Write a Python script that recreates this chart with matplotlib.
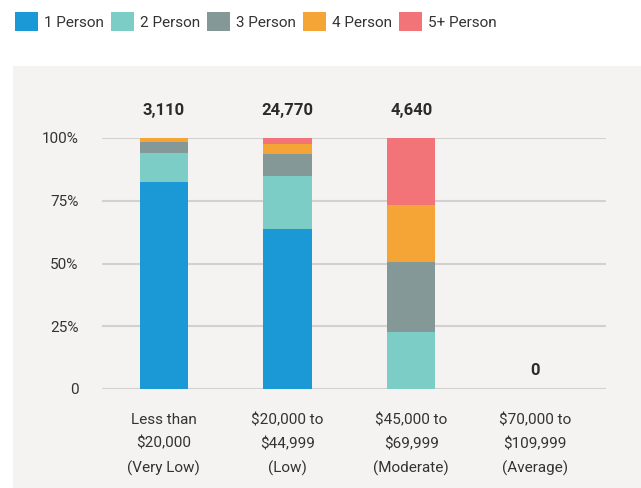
import matplotlib.pyplot as plt
import matplotlib.patches as patches
import numpy as np

plt.rcParams['font.family'] = ['Roboto', 'DejaVu Sans']

categories = ['Less than\n$20,000\n(Very Low)', '$20,000 to\n$44,999\n(Low)',
              '$45,000 to\n$69,999\n(Moderate)', '$70,000 to\n$109,999\n(Average)']
totals = ['3,110', '24,770', '4,640', '0']
series = ['1 Person', '2 Person', '3 Person', '4 Person', '5+ Person']
colors = ['#1b98d6', '#7dcdc7', '#849898', '#f5a535', '#f27478']
# percentage shares per household size, one list per series
one_person = [82.4, 63.6, 0, 0]
two_person = [11.6, 21.2, 22.8, 0]
three_person = [4.4, 8.8, 27.6, 0]
four_person = [1.6, 4.0, 22.8, 0]
five_person = [0, 2.4, 26.8, 0]
values = [one_person, two_person, three_person, four_person, five_person]

fig = plt.figure(figsize=(6.41, 4.88), dpi=100)
fig.patch.set_facecolor('white')

# grey panel behind the chart
panel = patches.Rectangle((13 / 641, 0), 628 / 641, 422 / 488,
                          transform=fig.transFigure, facecolor='#f4f3f1',
                          edgecolor='none', zorder=-5)
fig.patches.append(panel)

ax = fig.add_axes([102 / 641, 99 / 488, 504 / 641, 251 / 488])
ax.set_facecolor('none')
ax.set_zorder(2)

x = np.arange(len(categories))
bottom = np.zeros(len(categories))
handles = []
for name, vals, col in zip(series, values, colors):
    vals = np.array(vals)
    ax.bar(x, vals, 0.39, bottom=bottom, color=col, zorder=3, label=name)
    handles.append(patches.Patch(facecolor=col, label=name))
    bottom += vals

for xi, t in zip(x, totals):
    if t != '0':
        y, off = 100, 20
    else:
        y, off = 0, 13.5
    ax.annotate(t, (xi, y), xytext=(0, off), textcoords='offset points',
                ha='center', va='center', fontsize=12, fontweight='bold',
                color='#2b2b2b')

ax.set_xlim(-0.5, 3.574)
ax.set_ylim(0, 100)
ax.set_yticks([0, 25, 50, 75, 100])
ax.set_yticklabels(['0', '25%', '50%', '75%', '100%'])
ax.set_xticks(x)
ax.set_xticklabels(categories, linespacing=1.82)
ax.tick_params(axis='y', length=0, pad=17, labelsize=11, labelcolor='#333333')
ax.tick_params(axis='x', length=0, pad=17.5, labelsize=11, labelcolor='#333333')
ax.grid(axis='y', color='#d2d1cf', linewidth=1.5, zorder=1)
for s in ax.spines.values():
    s.set_visible(False)

fig.legend(handles=handles, loc='upper left', bbox_to_anchor=(0.0, 1.006),
           ncol=5, frameon=False, fontsize=11, handlelength=1.5,
           handleheight=1.5, handletextpad=0.4, columnspacing=0.45,
           labelcolor='#333333', borderaxespad=0.6)

fig.savefig('out.png', dpi=100)
